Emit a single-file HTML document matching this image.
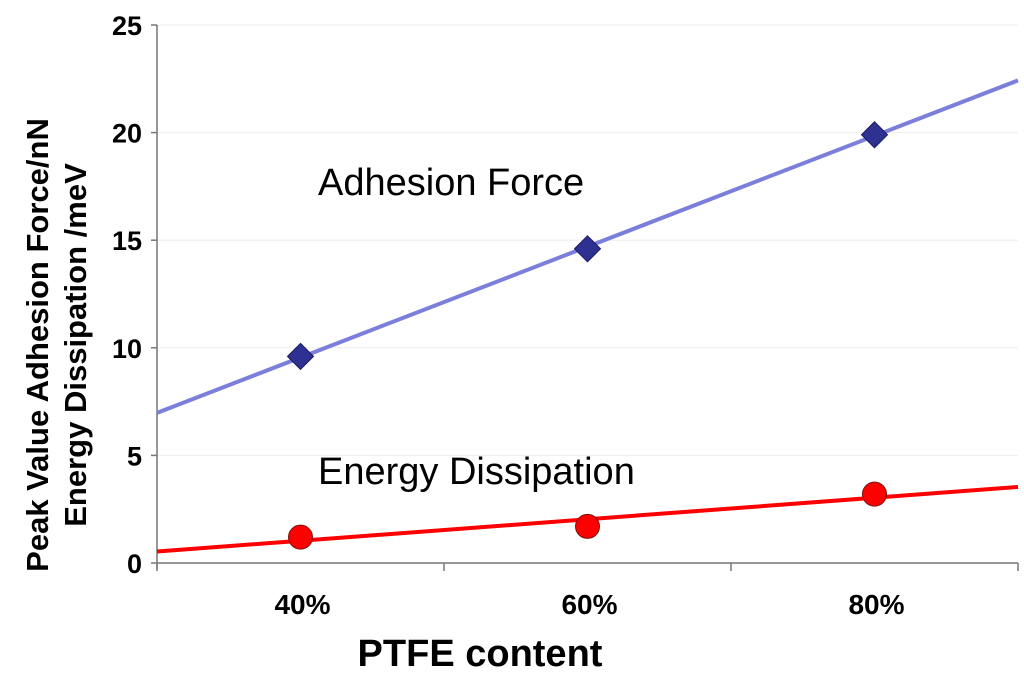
<!DOCTYPE html>
<html><head><meta charset="utf-8"><style>
body{margin:0;background:#fff;}
svg{display:block;font-family:"Liberation Sans",Arial,sans-serif;}
</style></head><body>
<svg id="chart" width="1024" height="678"></svg>
<script>
const categories=["40%","60%","80%"];
const adhesion=[9.6,14.6,19.9];
const energy=[1.2,1.7,3.2];
const yTicks=[0,5,10,15,20,25];
const ns="http://www.w3.org/2000/svg";
const svg=document.getElementById('chart');
const L=157,R=1018,T=25,B=563,yMax=25;
const cw=(R-L)/categories.length;
function xs(i){return L+cw*(i+0.5);}
function xf(f){return L+cw*f;}
function ys(v){return B-(v/yMax)*(B-T);}
function mk(tag,attrs,name,parent){const e=document.createElementNS(ns,tag);for(const k in attrs)e.setAttribute(k,attrs[k]);


(parent||svg).appendChild(e);return e;}
yTicks.forEach(v=>{
 if(v>0) mk('line',{x1:L,x2:R,y1:ys(v),y2:ys(v),stroke:'#eeeeee','stroke-width':1},'gridline-'+v);
 mk('line',{x1:L-6,x2:L,y1:ys(v),y2:ys(v),stroke:'#777','stroke-width':1.5},'y-tick-'+v);
 const t=mk('text',{x:L-15,y:ys(v)+10,'text-anchor':'end','font-size':27,'font-weight':'bold',fill:'#000'},'y-tick-label-'+v);t.textContent=v;
});
mk('line',{x1:L,x2:L,y1:T,y2:B+6,stroke:'#777','stroke-width':1.5},'y-axis');
mk('line',{x1:L,x2:R,y1:B,y2:B,stroke:'#777','stroke-width':1.5},'x-axis');
for(let i=0;i<=categories.length;i++) mk('line',{x1:xf(i),x2:xf(i),y1:B,y2:B+8,stroke:'#777','stroke-width':1.5},'x-tick-'+i);
categories.forEach((c,i)=>{const t=mk('text',{x:xs(i)+2,y:614,'text-anchor':'middle','font-size':28,'font-weight':'bold'},'x-tick-label-'+i);t.textContent=c;});
function fit(arr){const n=arr.length;const xm=(n-1)/2;let sx=0,sxy=0,ym=arr.reduce((a,b)=>a+b,0)/n;arr.forEach((v,i)=>{sxy+=(i-xm)*(v-ym);sx+=(i-xm)*(i-xm);});const m=sxy/sx;return f=>ym+m*(f-0.5-xm);}
const fa=fit(adhesion),fe=fit(energy);
const n=categories.length;
mk('line',{x1:xf(0),y1:ys(fa(0)),x2:xf(n),y2:ys(fa(n)),stroke:'#7b7fdc','stroke-width':4},'adhesion-trendline');
mk('line',{x1:xf(0),y1:ys(fe(0)),x2:xf(n),y2:ys(fe(n)),stroke:'#ff0000','stroke-width':4},'energy-trendline');
adhesion.forEach((v,i)=>{const x=xs(i),y=ys(v),s=13;mk('polygon',{points:`${x},${y-s} ${x+s},${y} ${x},${y+s} ${x-s},${y}`,fill:'#2e3192',stroke:'#1a1a60','stroke-width':1},'adhesion-point-'+i);});
energy.forEach((v,i)=>{mk('circle',{cx:xs(i),cy:ys(v),r:12,fill:'#ff0000',stroke:'#7a1010','stroke-width':1},'energy-point-'+i);});
let t=mk('text',{x:318,y:195,'font-size':38},'adhesion-label');t.textContent='Adhesion Force';
t=mk('text',{x:318,y:484,'font-size':38},'energy-label');t.textContent='Energy Dissipation';
t=mk('text',{x:480,y:666,'text-anchor':'middle','font-size':38,'font-weight':'bold'},'x-axis-title');t.textContent='PTFE content';
const g=mk('g',{},'y-axis-title');
t=mk('text',{x:0,y:0,transform:'translate(48,345) rotate(-90)','text-anchor':'middle','font-size':31,'font-weight':'bold'},'y-axis-title-line1',g);t.textContent='Peak Value Adhesion Force/nN';
t=mk('text',{x:0,y:0,transform:'translate(86,345) rotate(-90)','text-anchor':'middle','font-size':31,'font-weight':'bold'},'y-axis-title-line2',g);t.textContent='Energy Dissipation /meV';
</script>
</body></html>
